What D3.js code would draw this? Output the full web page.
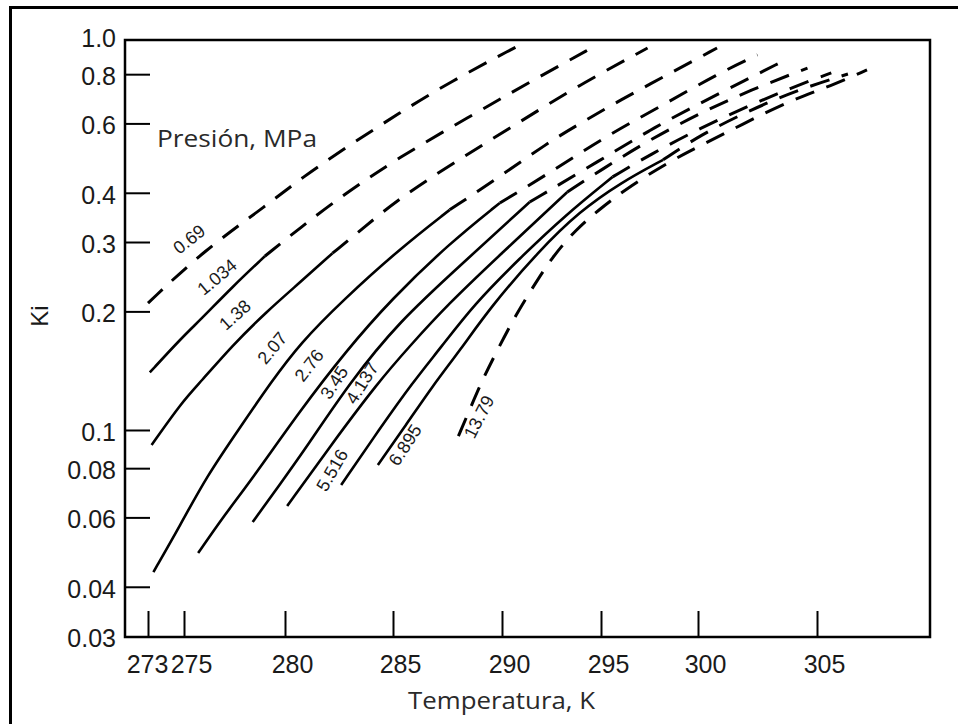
<!DOCTYPE html>
<html>
<head>
<meta charset="utf-8">
<script src="https://cdn.jsdelivr.net/npm/d3@7"></script>
<style>
  body { margin: 0; background: #fff; }
  svg { display: block; }
</style>
</head>
<body>
<svg id="chart" width="958" height="724"></svg>
<script>
// pressure of each curve, MPa
var pressures = ["0.69", "1.034", "1.38", "2.07", "2.76", "3.45", "4.137", "5.516", "6.895", "13.79"];

// [temperature K, Ki], left to right
var k_069 = [[273.0, 0.210], [276.0, 0.286], [279.2, 0.375], [280.7, 0.434], [283.0, 0.529],
             [285.3, 0.638], [287.6, 0.764], [290.8, 0.943]];
var k_1034 = [[273.1, 0.140], [274.9, 0.172], [275.8, 0.190], [277.4, 0.231], [279.0, 0.276],
              [280.7, 0.326], [282.7, 0.395], [285.3, 0.493], [288.4, 0.619], [291.4, 0.764], [294.8, 0.949]];
var k_138 = [[273.2, 0.0916], [274.9, 0.118], [275.8, 0.132], [277.4, 0.164], [279.1, 0.200],
             [280.7, 0.237], [282.2, 0.281], [283.7, 0.328], [285.3, 0.388], [288.0, 0.485],
             [290.8, 0.601], [293.9, 0.751], [297.4, 0.932]];
var k_207 = [[273.3, 0.0436], [274.8, 0.0574], [276.1, 0.0760], [277.8, 0.102], [279.3, 0.132],
             [280.7, 0.166], [282.7, 0.214], [285.3, 0.288], [287.6, 0.362], [289.8, 0.436],
             [292.3, 0.535], [293.8, 0.594], [296.0, 0.688], [298.6, 0.806], [300.8, 0.932]];
var k_276 = [[275.7, 0.0487], [277.0, 0.0608], [278.3, 0.0742], [280.7, 0.112], [282.8, 0.158],
             [284.9, 0.214], [287.6, 0.298], [289.9, 0.377], [292.4, 0.449], [295.1, 0.551],
             [298.0, 0.660], [300.9, 0.806], [302.5, 0.895]];
var k_345 = [[278.4, 0.0584], [279.8, 0.0734], [281.0, 0.0905], [283.0, 0.132], [285.3, 0.189],
             [288.1, 0.262], [291.4, 0.379], [295.0, 0.485], [297.5, 0.577], [300.1, 0.676],
             [302.0, 0.773], [303.5, 0.859]];
var k_4137 = [[280.1, 0.0641], [282.1, 0.0911], [284.3, 0.132], [285.8, 0.164], [287.5, 0.208],
              [289.9, 0.278], [293.3, 0.402], [295.0, 0.457], [297.5, 0.545], [300.1, 0.638],
              [302.2, 0.729], [304.6, 0.829]];
var k_5516 = [[282.6, 0.0725], [284.4, 0.101], [285.9, 0.132], [287.2, 0.162], [288.7, 0.208],
              [290.9, 0.273], [293.2, 0.351], [295.6, 0.439], [297.5, 0.499], [300.1, 0.584],
              [302.2, 0.668], [303.9, 0.738], [305.6, 0.806]];
var k_6895 = [[284.3, 0.0815], [285.6, 0.103], [286.8, 0.129], [288.1, 0.160], [289.5, 0.206],
              [291.9, 0.286], [293.9, 0.358], [296.0, 0.424], [298.2, 0.485], [300.1, 0.561],
              [302.2, 0.649], [304.3, 0.734], [306.3, 0.801]];
var k_1379 = [[288.0, 0.0965], [288.5, 0.112], [289.1, 0.134], [289.8, 0.160], [290.7, 0.196],
              [291.6, 0.232], [292.5, 0.273], [293.7, 0.322], [295.0, 0.366], [296.5, 0.416],
              [298.5, 0.479], [300.0, 0.523], [301.8, 0.594], [303.9, 0.688], [305.6, 0.747], [307.1, 0.820]];
var curves = [k_069, k_1034, k_138, k_207, k_276, k_345, k_4137, k_5516, k_6895, k_1379];

// temperature where the solid part of a curve stops (null = dashed all along)
var solidUntil = [null, 279.0, 282.2, 287.6, 289.9, 291.4, 293.3, 295.6, 298.2, null];

// where each pressure label sits, and its slant
var labelT = [275.25, 276.63, 277.52, 279.36, 281.11, 282.27, 283.56, 282.18, 285.55, 288.94];
var labelK = [0.305, 0.2445, 0.196, 0.1615, 0.146, 0.132, 0.1316, 0.0791, 0.0916, 0.108];
var labelAngle = [-38, -40, -42, -50, -52, -57, -58, -60, -57, -63];

var xTicks = [273, 275, 280, 285, 290, 295, 300, 305];
var yTicks = [1.0, 0.8, 0.6, 0.4, 0.3, 0.2, 0.1, 0.08, 0.06, 0.04, 0.03];
var yTickLabels = ["1.0", "0.8", "0.6", "0.4", "0.3", "0.2", "0.1", "0.08", "0.06", "0.04", "0.03"];

var svg = d3.select("#chart");
var numFont = "'Liberation Sans', Arial, sans-serif";
var textFont = "'Open Sans', 'Noto Sans', sans-serif";

// the printed axis is not evenly spaced, so the x scale follows its ticks
var x = d3.scaleLinear()
    .domain(xTicks)
    .range([148, 184, 285, 393, 502, 601, 698, 817]);

var y = d3.scaleLog()
    .domain([0.03, 1])
    .range([636, 36]);

// outer border of the figure
svg.append("rect")
    .attr("x", 10.5).attr("y", 7.5)
    .attr("width", 1000).attr("height", 1000)
    .attr("fill", "none")
    .attr("stroke", "#000")
    .attr("stroke-width", 3);

// plot frame
svg.append("rect")
    .attr("x", 125).attr("y", 40)
    .attr("width", 805).attr("height", 597)
    .attr("fill", "none")
    .attr("stroke", "#000")
    .attr("stroke-width", 2.5);

// y axis, ticks pointing inward
var gy = svg.append("g")
    .attr("transform", "translate(125,0)")
    .call(d3.axisLeft(y)
        .tickValues(yTicks)
        .tickFormat(function(d, i) { return yTickLabels[i]; })
        .tickSizeInner(-25)
        .tickSizeOuter(0)
        .tickPadding(9));
gy.select(".domain").remove();
gy.selectAll(".tick line")
    .filter(function(d) { return d === 1 || d === 0.03; })
    .remove();
gy.selectAll(".tick line").attr("stroke", "#000").attr("stroke-width", 2);
gy.selectAll(".tick text")
    .attr("font-family", numFont)
    .attr("font-size", 25)
    .attr("fill", "#1a1a1a")
    .attr("dy", "0.42em");

// x axis, ticks pointing up
var gx = svg.append("g")
    .attr("transform", "translate(0,637)")
    .call(d3.axisBottom(x)
        .tickValues(xTicks)
        .tickFormat(d3.format("d"))
        .tickSizeInner(-26)
        .tickSizeOuter(0)
        .tickPadding(18));
gx.select(".domain").remove();
gx.selectAll(".tick line").attr("stroke", "#000").attr("stroke-width", 2);
gx.selectAll(".tick text")
    .attr("font-family", numFont)
    .attr("font-size", 25)
    .attr("fill", "#1a1a1a")
    .attr("dx", function(d) { return d === 273 ? -1 : 7; });

// curves: solid part then dashed part
var line = d3.line()
    .x(function(d) { return x(d[0]); })
    .y(function(d) { return y(d[1]); })
    .curve(d3.curveBasis);

var gc = svg.append("g").attr("fill", "none").attr("stroke", "#000");

var solidParts = [];
var dashedParts = [];
curves.forEach(function(c, i) {
    if (solidUntil[i] === null) {
        dashedParts.push(c);
        return;
    }
    solidParts.push(c.filter(function(p) { return p[0] <= solidUntil[i]; }));
    dashedParts.push(c.filter(function(p) { return p[0] >= solidUntil[i]; }));
});

gc.selectAll("path.solid")
    .data(solidParts)
    .enter()
    .append("path")
    .attr("class", "solid")
    .attr("stroke-width", 2.6)
    .attr("d", line);

gc.selectAll("path.dashed")
    .data(dashedParts)
    .enter()
    .append("path")
    .attr("class", "dashed")
    .attr("stroke-width", 3)
    .attr("stroke-dasharray", "20,13")
    .attr("d", line);

// pressure labels along the curves
svg.append("g")
    .selectAll("text")
    .data(pressures)
    .enter()
    .append("text")
    .attr("transform", function(d, i) {
        return "translate(" + x(labelT[i]) + "," + y(labelK[i]) + ") rotate(" + labelAngle[i] + ")";
    })
    .attr("text-anchor", "middle")
    .attr("dy", "0.35em")
    .attr("font-family", numFont)
    .attr("font-size", 18)
    .attr("fill", "#1a1a1a")
    .text(function(d) { return d; });

svg.append("text")
    .attr("x", 157).attr("y", 147)
    .attr("font-family", textFont)
    .attr("font-size", 24)
    .attr("fill", "#2a2a2a")
    .attr("textLength", 160)
    .attr("lengthAdjust", "spacingAndGlyphs")
    .text("Presión, MPa");

svg.append("text")
    .attr("x", 408).attr("y", 709)
    .attr("font-family", textFont)
    .attr("font-size", 24)
    .attr("fill", "#2a2a2a")
    .attr("textLength", 187)
    .attr("lengthAdjust", "spacingAndGlyphs")
    .text("Temperatura, K");

svg.append("text")
    .attr("transform", "translate(40,316) rotate(-90)")
    .attr("text-anchor", "middle")
    .attr("dy", "0.35em")
    .attr("font-family", numFont)
    .attr("font-size", 24)
    .attr("fill", "#1a1a1a")
    .text("Ki");
</script>
</body>
</html>
